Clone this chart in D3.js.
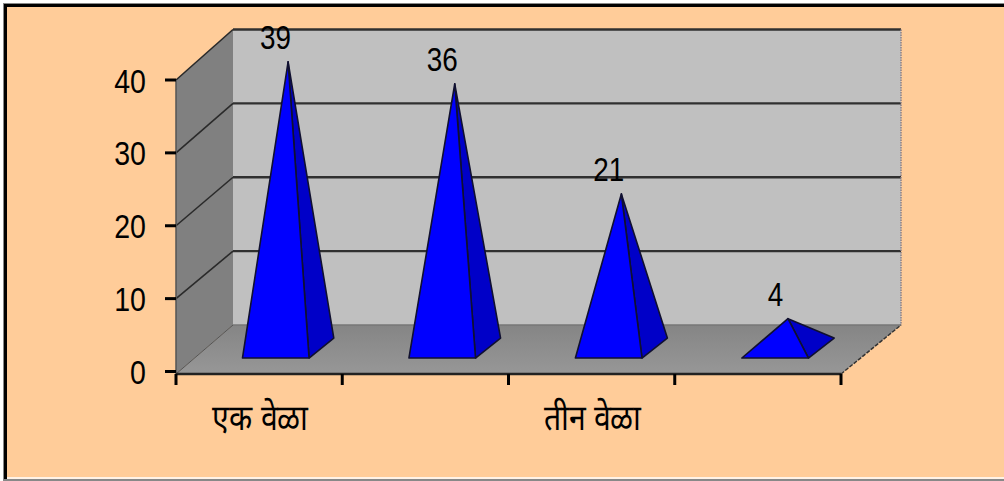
<!DOCTYPE html>
<html>
<head>
<meta charset="utf-8">
<script src="https://cdn.jsdelivr.net/npm/d3@7/dist/d3.min.js"></script>
<style>
html,body{margin:0;padding:0;background:#fff;overflow:hidden}
svg{display:block}
text{font-family:"Liberation Sans",sans-serif;fill:#000}
</style>
</head>
<body>
<svg id="chart" width="1004" height="481"></svg>
<script>
const categories = ["एक वेळा", "दोन वेळा", "तीन वेळा", "चार वेळा"];
const values = [39, 36, 21, 4];
const yTicks = [0, 10, 20, 30, 40];
const labelledCategories = ["एक वेळा", "तीन वेळा"];

const svg = d3.select("#chart");

// Front plane and back wall scales; depth d blends between them (0 = front, 1 = back).
const x = d3.scaleBand().domain(categories).range([176, 841]);
const xBack = d3.scaleLinear().domain(x.range()).range([233, 901]);
const y = d3.scaleLinear().domain([0, 40]).range([371.5, 80]);
const yBack = d3.scaleLinear().domain([0, 40]).range([325, 29.5]);
const px = (xv, d) => d3.interpolateNumber(xv, xBack(xv))(d);
const py = (v, d) => d3.interpolateNumber(y(v), yBack(v))(d);

const xLeft = x.range()[0], xRight = x.range()[1], yMax = 40;
const floorY = y(0) + 2.5;
const pts = a => a.map(p => p.join(",")).join(" ");

// Horizontally condensed text
const label = (tx, ty, size, squeeze, anchor, content) =>
  svg.append("text")
    .attr("transform", `translate(${tx},${ty}) scale(${squeeze},1)`)
    .attr("text-anchor", anchor).attr("font-size", size).text(content);

// Panel background and frame
svg.append("rect").attr("x", 3).attr("y", 3).attr("width", 1001).attr("height", 478).attr("fill", "#888");
svg.append("rect").attr("x", 4).attr("y", 4).attr("width", 1000).attr("height", 475).attr("fill", "#000");
svg.append("rect").attr("x", 7).attr("y", 7).attr("width", 997).attr("height", 470).attr("fill", "#ffcc99");
svg.append("rect").attr("x", 7).attr("y", 477).attr("width", 997).attr("height", 2).attr("fill", "#fff2e6");
svg.append("rect").attr("x", 7).attr("y", 479).attr("width", 997).attr("height", 2).attr("fill", "#888");

// Walls and floor
const backWall = [[px(xLeft,1),py(yMax,1)],[px(xRight,1),py(yMax,1)],[px(xRight,1),py(0,1)],[px(xLeft,1),py(0,1)]];
const sideWall = [[px(xLeft,0),py(yMax,0)],[px(xLeft,1),py(yMax,1)],[px(xLeft,1),py(0,1)],[px(xLeft,0),floorY]];
const floor = [[px(xLeft,0),floorY],[px(xRight,0),floorY],[px(xRight,1),py(0,1)],[px(xLeft,1),py(0,1)]];

svg.append("polygon").attr("points", pts(backWall)).attr("fill", "#c0c0c0");
svg.append("polygon").attr("points", pts(sideWall)).attr("fill", "#808080");
const floorGrad = svg.append("defs").append("linearGradient")
  .attr("id", "floorShade").attr("x1", 0).attr("y1", 0).attr("x2", 0).attr("y2", 1);
floorGrad.append("stop").attr("offset", 0).attr("stop-color", "#858585");
floorGrad.append("stop").attr("offset", 1).attr("stop-color", "#979797");
svg.append("polygon").attr("points", pts(floor)).attr("fill", "url(#floorShade)");

// Gridlines along the side wall and across the back wall
yTicks.filter(t => t > 0).forEach(t => {
  svg.append("line").attr("x1", px(xLeft,0)).attr("y1", py(t,0)).attr("x2", px(xLeft,1)).attr("y2", py(t,1))
    .attr("stroke", "#2a2a2a").attr("stroke-width", 1.6);
  svg.append("line").attr("x1", px(xLeft,1)).attr("y1", py(t,1)).attr("x2", px(xRight,1)).attr("y2", py(t,1))
    .attr("stroke", "#303030").attr("stroke-width", 2.4);
});
svg.append("line").attr("x1", px(xLeft,1)).attr("x2", px(xRight,1)).attr("y1", py(0,1)).attr("y2", py(0,1))
  .attr("stroke", "#777").attr("stroke-width", 1.5);
svg.append("line").attr("x1", px(xLeft,0)).attr("y1", floorY).attr("x2", px(xLeft,1)).attr("y2", py(0,1))
  .attr("stroke", "#555").attr("stroke-width", 1);
svg.append("line").attr("x1", px(xRight,0)).attr("y1", floorY).attr("x2", px(xRight,1)).attr("y2", py(0,1))
  .attr("stroke", "#333").attr("stroke-width", 1.5).attr("stroke-dasharray", "4 1.5");
svg.append("line").attr("x1", px(xRight,1)).attr("y1", py(yMax,1)).attr("x2", px(xRight,1)).attr("y2", py(0,1))
  .attr("stroke", "#8a8088").attr("stroke-width", 1.5).attr("stroke-dasharray", "1.5 1");
svg.append("line").attr("x1", xLeft).attr("y1", y(yMax)).attr("x2", xLeft).attr("y2", floorY)
  .attr("stroke", "#555").attr("stroke-width", 1.5);

// Pyramids, one per category
const depthFront = 0.29, depthBack = 0.72, depthMid = (depthFront + depthBack) / 2;
const halfBase = x.bandwidth() * 0.2;
values.forEach((v, i) => {
  const center = x(categories[i]) + x.bandwidth() / 2;
  const l = center - halfBase, r = center + halfBase;
  const fl = [px(l, depthFront), py(0, depthFront)];
  const fr = [px(r, depthFront), py(0, depthFront)];
  const br = [px(r, depthBack), py(0, depthBack)];
  const apex = [px(center, depthMid), py(v, depthMid)];
  const g = svg.append("g").attr("stroke", "#101030").attr("stroke-width", 1.6).attr("stroke-linejoin", "round");
  g.append("polygon").attr("points", pts([fr, br, apex])).attr("fill", "#0000c8");
  g.append("polygon").attr("points", pts([fl, fr, apex])).attr("fill", "#0000ff");
  label(apex[0] - 12.5, apex[1] - 12.5, 34, 0.82, "middle", v);
});

// Value axis
yTicks.forEach(t => {
  svg.append("line").attr("x1", 165).attr("x2", 176).attr("y1", y(t)).attr("y2", y(t))
    .attr("stroke", "#000").attr("stroke-width", 3);
  label(146, y(t) + 12.5, 34, 0.84, "end", t);
});

// Category axis
svg.append("line").attr("x1", xLeft).attr("x2", xRight).attr("y1", floorY).attr("y2", floorY)
  .attr("stroke", "#222").attr("stroke-width", 2.5);
[...categories.map(c => x(c)), xRight].forEach(t => {
  svg.append("line").attr("x1", t).attr("x2", t).attr("y1", floorY).attr("y2", floorY + 11)
    .attr("stroke", "#000").attr("stroke-width", 3);
});
labelledCategories.forEach(c => {
  label(x(c) + x.bandwidth() / 2 + 1, 430, 36, 0.84, "middle", c);
});
</script>
</body>
</html>
